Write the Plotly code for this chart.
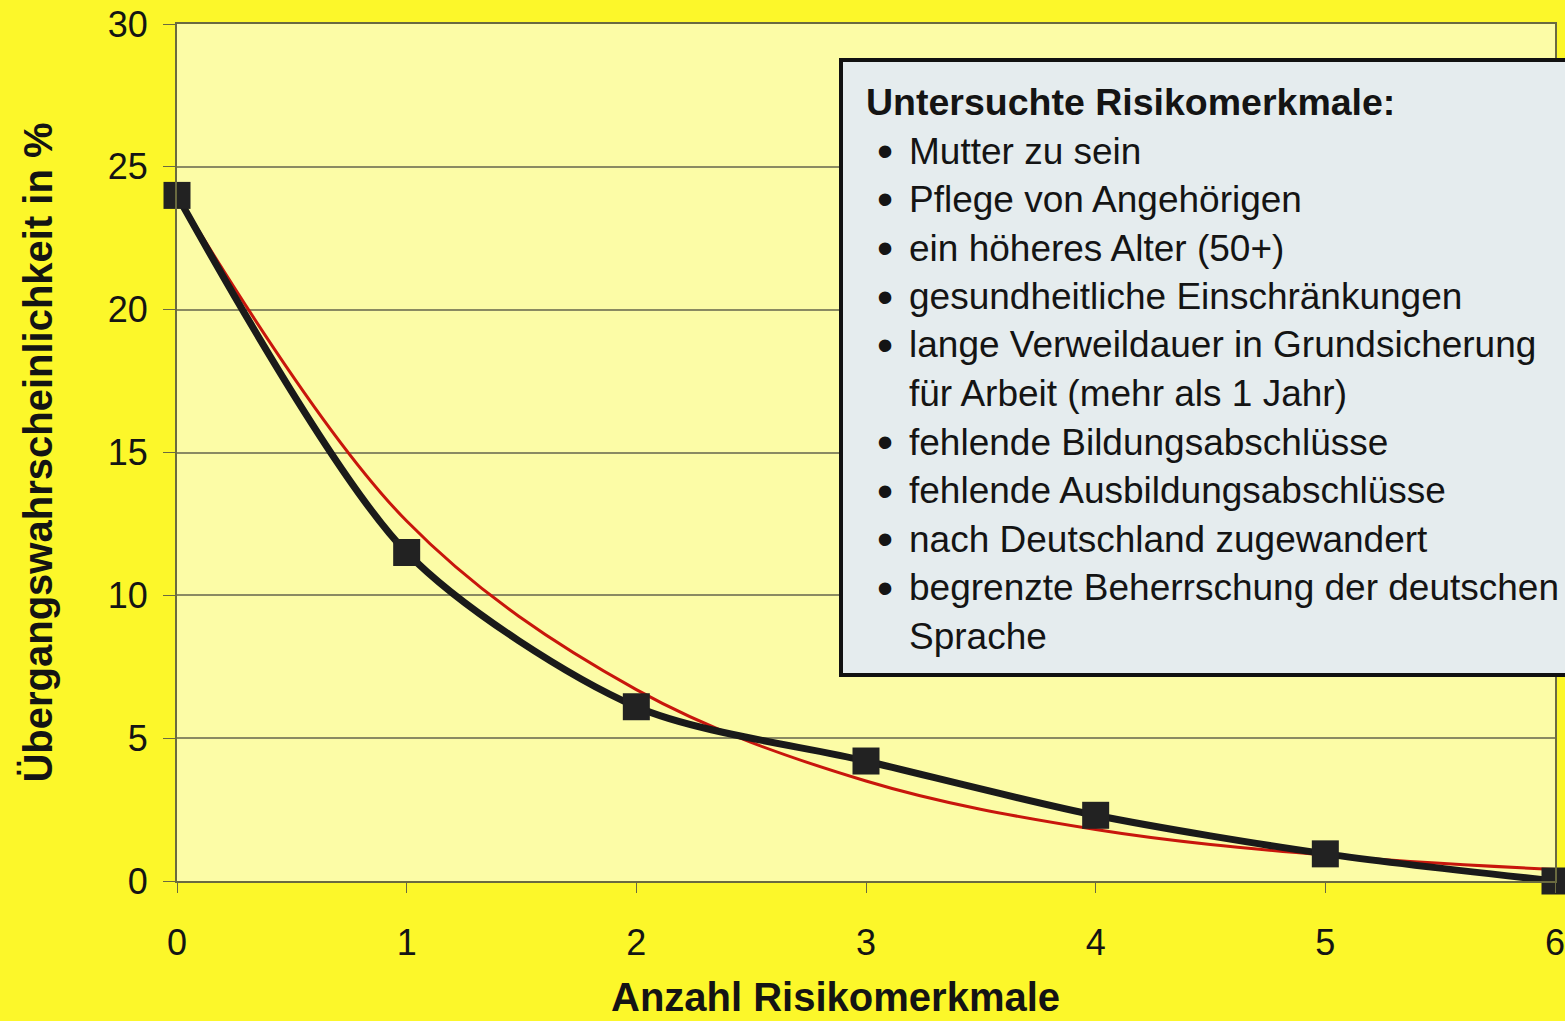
import plotly.graph_objects as go

# ---- data ----
anzahl = [0, 1, 2, 3, 4, 5, 6]
beobachtet = [24.0, 11.5, 6.1, 4.2, 2.3, 0.95, 0.0]
trend = [24.0, 12.6, 6.7, 3.5, 1.8, 0.9, 0.4]
y_ticks = [0, 5, 10, 15, 20, 25, 30]

x_title = "Anzahl Risikomerkmale"
y_title = "Übergangswahrscheinlichkeit in %"
box_title = "Untersuchte Risikomerkmale:"
box_items = [
    ("•", "Mutter zu sein"),
    ("•", "Pflege von Angehörigen"),
    ("•", "ein höheres Alter (50+)"),
    ("•", "gesundheitliche Einschränkungen"),
    ("•", "lange Verweildauer in Grundsicherung"),
    ("", "für Arbeit (mehr als 1 Jahr)"),
    ("•", "fehlende Bildungsabschlüsse"),
    ("•", "fehlende Ausbildungsabschlüsse"),
    ("•", "nach Deutschland zugewandert"),
    ("•", "begrenzte Beherrschung der deutschen"),
    ("", "Sprache"),
]

W, H = 1565, 1021
L, R, T, B = 177, 10, 24, 140
PW, PH = W - L - R, H - T - B

def px(x):
    return (x - L) / PW

def py(y):
    return (H - B - y) / PH

FONT = "Liberation Sans, Arial, sans-serif"
TXT = "#141414"

fig = go.Figure()
fig.add_trace(go.Scatter(
    x=anzahl, y=trend, mode="lines",
    line=dict(color="#C8160C", width=3, shape="spline", smoothing=1.0),
    cliponaxis=False, showlegend=False, hoverinfo="skip"))
fig.add_trace(go.Scatter(
    x=anzahl, y=beobachtet, mode="lines+markers",
    line=dict(color="#1A1A1A", width=7, shape="spline", smoothing=0.8),
    marker=dict(symbol="square", size=27, color="#222222"),
    cliponaxis=False, showlegend=False))

fig.update_layout(
    width=W, height=H,
    margin=dict(l=L, r=R, t=T, b=B, autoexpand=False),
    paper_bgcolor="#FCF72A",
    plot_bgcolor="#FCFCA6",
    font=dict(family=FONT, color=TXT, size=36),
    xaxis=dict(
        range=[0, 6], tickvals=anzahl, ticks="outside", ticklen=10,
        tickcolor="#6A6A40", ticklabelstandoff=19, automargin=False,
        ticklabeloverflow="allow",
        showgrid=False, showline=True, linecolor="#6A6A40", linewidth=2,
        mirror=True, zeroline=False,
        tickfont=dict(size=36, family=FONT, color=TXT),
    ),
    yaxis=dict(
        range=[0, 30], tickvals=y_ticks, ticks="outside", ticklen=12,
        tickcolor="#6A6A40", ticklabelstandoff=8, automargin=False,
        ticklabeloverflow="allow",
        showgrid=True, gridcolor="#8A8A62", gridwidth=1.5,
        showline=True, linecolor="#6A6A40", linewidth=2, mirror=True,
        zeroline=False,
        tickfont=dict(size=36, family=FONT, color=TXT),
        title=dict(text="<b>" + y_title + "</b>", standoff=43,
                   font=dict(size=40, family=FONT, color=TXT)),
    ),
)

# x axis title (placed left of centre as in the original)
fig.add_annotation(xref="paper", yref="paper", x=px(835), y=py(997),
                   xanchor="center", yanchor="middle", showarrow=False,
                   text="<b>" + x_title + "</b>",
                   font=dict(size=40, family=FONT, color=TXT))

# info box
fig.add_shape(type="rect", xref="paper", yref="paper",
              x0=px(841), x1=px(1600), y0=py(675), y1=py(60),
              fillcolor="#E5ECEE", line=dict(color="#111111", width=4),
              layer="above")

fig.add_annotation(xref="paper", yref="paper", x=px(864), y=py(102),
                   xanchor="left", yanchor="middle", showarrow=False,
                   text="<b>" + box_title + "</b>",
                   font=dict(size=37.5, family=FONT, color=TXT))
y0, dy = 151, 48.5
for i, (bul, txt) in enumerate(box_items):
    yy = y0 + i * dy
    if bul:
        fig.add_annotation(xref="paper", yref="paper", x=px(885), y=py(yy),
                           xanchor="center", yanchor="middle", showarrow=False,
                           text=bul, font=dict(size=46, family=FONT, color=TXT))
    fig.add_annotation(xref="paper", yref="paper", x=px(907), y=py(yy),
                       xanchor="left", yanchor="middle", showarrow=False,
                       text=txt, font=dict(size=37, family=FONT, color=TXT))

fig.write_html("out.html", config={"displayModeBar": False},
               post_script="document.body.style.margin='0px';document.body.style.overflow='hidden';")
